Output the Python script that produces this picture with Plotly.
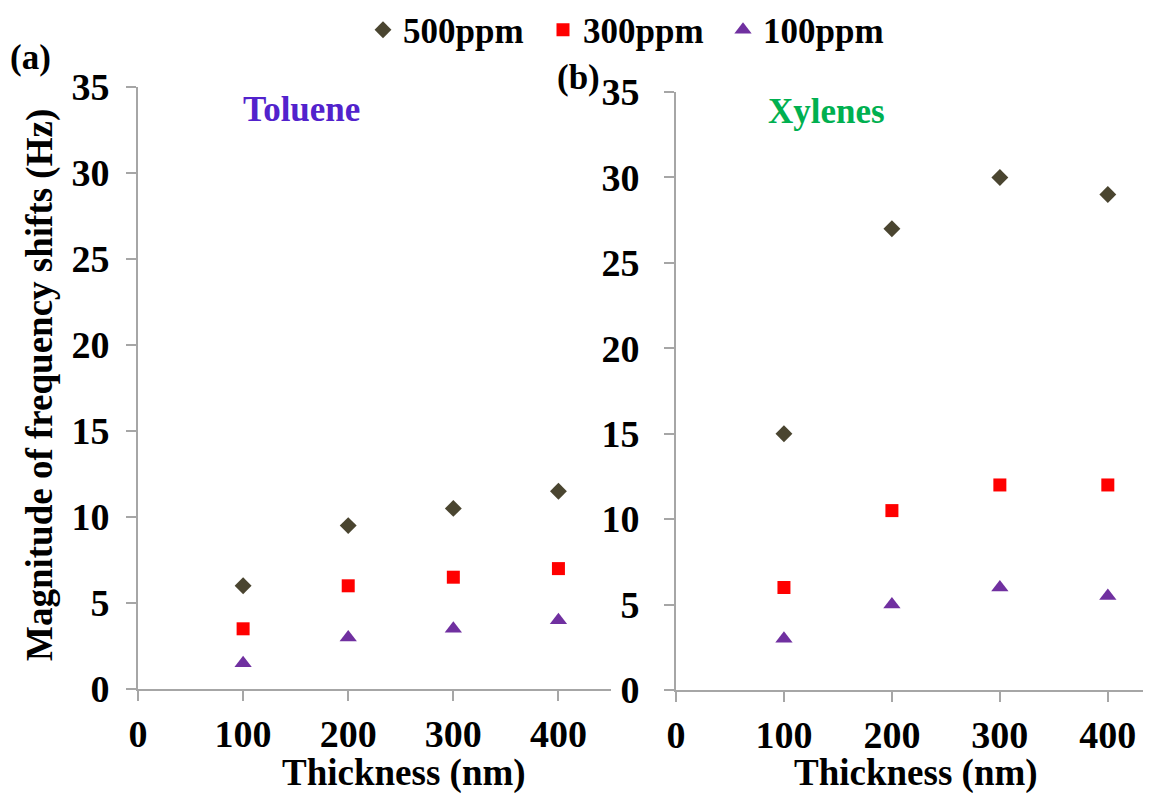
import plotly.graph_objects as go

thickness = [100, 200, 300, 400]
series_names = ["500ppm", "300ppm", "100ppm"]
toluene_500 = [6, 9.5, 10.5, 11.5]
toluene_300 = [3.5, 6, 6.5, 7]
toluene_100 = [1.5, 3, 3.5, 4]
xylenes_500 = [15, 27, 30, 29]
xylenes_300 = [6, 10.5, 12, 12]
xylenes_100 = [3, 5, 6, 5.5]
x_ticks = [0, 100, 200, 300, 400]
y_ticks = [0, 5, 10, 15, 20, 25, 30, 35]

OFF = 8  # page body margin
W, H = 1151 - OFF, 793 - OFF
FONT = "Liberation Serif"
styles = [
    dict(symbol="diamond", size=13, color="#4A4530"),
    dict(symbol="square", size=13, color="#FF0000"),
    dict(symbol="triangle-up", size=15, color="#7030A0"),
]

fig = go.Figure()
for data, xa, ya, show in [
    ((toluene_500, toluene_300, toluene_100), "x", "y", True),
    ((xylenes_500, xylenes_300, xylenes_100), "x2", "y2", False),
]:
    for name, vals, st in zip(series_names, data, styles):
        fig.add_trace(go.Scatter(
            x=thickness, y=vals, mode="markers", name=name,
            marker=dict(symbol=st["symbol"], size=st["size"], color=st["color"],
                        line=dict(width=0)),
            xaxis=xa, yaxis=ya, showlegend=show, legendgroup=name,
        ))

tickfont = dict(family=FONT, size=38, color="black", weight=700)
axis_common = dict(
    showgrid=False, zeroline=False, showline=True, linecolor="#A6A6A6", linewidth=2,
    ticks="outside", ticklen=10, tickcolor="#A6A6A6", tickwidth=2,
    tickfont=tickfont, automargin=False, fixedrange=True,
)

def px_x(p):
    return (p - OFF) / W

def px_y(p):
    return (H - (p - OFF)) / H

fig.update_layout(
    width=W, height=H,
    margin=dict(l=0, r=0, t=0, b=0, autoexpand=False),
    paper_bgcolor="white", plot_bgcolor="white",
    xaxis=dict(domain=[px_x(138), px_x(611)], range=[0, 450], tickvals=x_ticks,
               anchor="y", ticklabelstandoff=0, **axis_common),
    yaxis=dict(domain=[px_y(689), px_y(87)], range=[0, 35], tickvals=y_ticks,
               anchor="x", ticklabelstandoff=9, **axis_common),
    xaxis2=dict(domain=[px_x(676), 1.0], range=[0, 440], tickvals=x_ticks,
                anchor="y2", ticklabelstandoff=0, **axis_common),
    yaxis2=dict(domain=[px_y(690), px_y(92)], range=[0, 35], tickvals=y_ticks,
                anchor="x2", ticklabelstandoff=17, **axis_common),
    legend=dict(orientation="h", x=px_x(363), xanchor="left", y=px_y(30), yanchor="middle",
                font=dict(family=FONT, size=35, color="black", weight=700),
                bgcolor="rgba(0,0,0,0)", itemwidth=30, tracegroupgap=0,
                entrywidth=135, entrywidthmode="pixels"),
    showlegend=True,
)

ann = [
    dict(text="(a)", x=px_x(30), y=px_y(58), color="black", size=35),
    dict(text="(b)", x=px_x(578), y=px_y(78), color="black", size=35),
    dict(text="Toluene", x=px_x(301), y=px_y(110), color="#5222CC", size=35),
    dict(text="Xylenes", x=px_x(827), y=px_y(112), color="#00B050", size=35),
    dict(text="Thickness (nm)", x=px_x(404), y=px_y(773), color="black", size=37),
    dict(text="Thickness (nm)", x=px_x(916), y=px_y(773), color="black", size=37),
]
for a in ann:
    fig.add_annotation(text=a["text"], x=a["x"], y=a["y"], xref="paper", yref="paper",
                       xanchor="center", yanchor="middle", showarrow=False,
                       font=dict(family=FONT, size=a["size"], color=a["color"], weight=700))
fig.add_annotation(text="Magnitude of frequency shifts (Hz)", x=px_x(40), y=px_y(385),
                   xref="paper", yref="paper", xanchor="center", yanchor="middle",
                   showarrow=False, textangle=-90,
                   font=dict(family=FONT, size=37, color="black", weight=700))

fig.write_html("out.html")
